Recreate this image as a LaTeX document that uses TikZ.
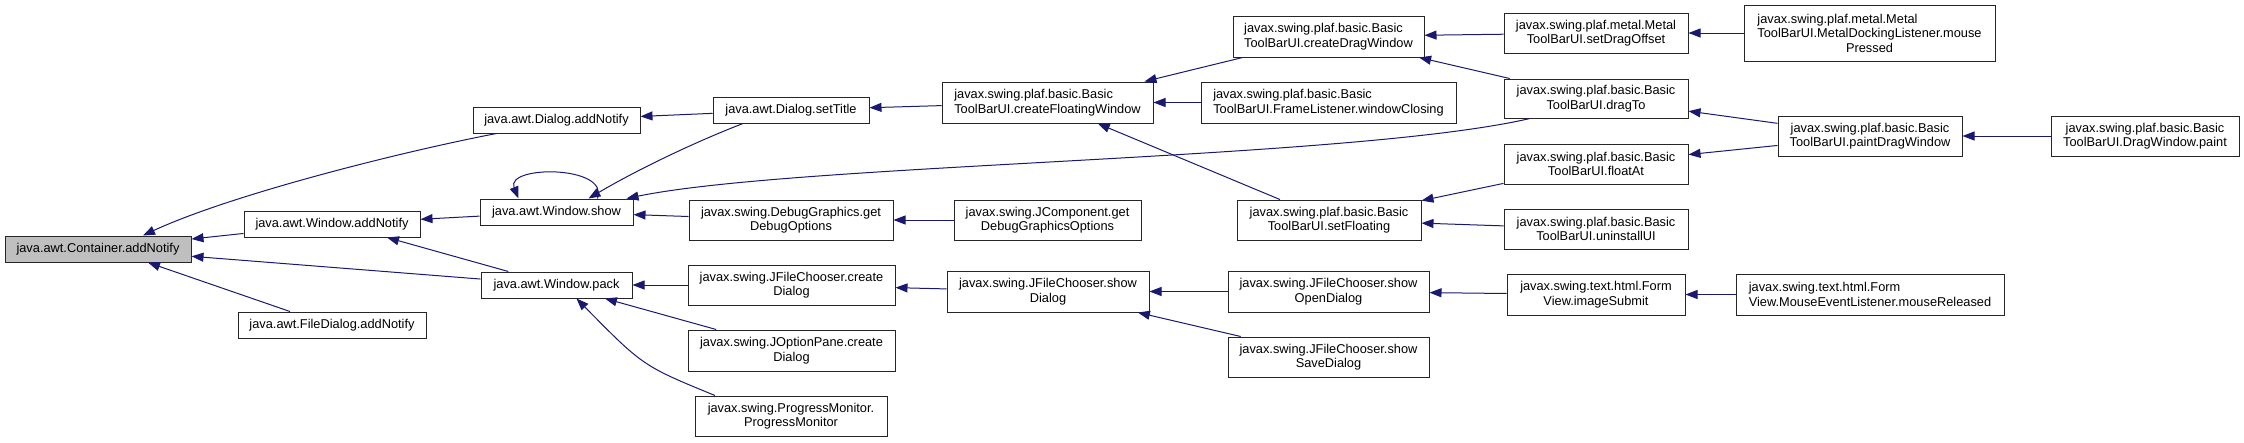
\documentclass[tikz,border=0pt]{standalone}
\usepackage{fontspec}
\setmainfont{Liberation Sans}
\usetikzlibrary{arrows.meta}
\definecolor{edgecol}{HTML}{191970}
\definecolor{rootfill}{HTML}{BFBFBF}
\begin{document}
\begin{tikzpicture}[x=1pt,y=-1pt,
  fn/.style={draw=black!85, line width=1pt, fill=white, inner sep=0pt,
    font=\fontsize{12.8}{14.5}\selectfont, align=center},
  lft/.style={align=left},
  sz/.style 2 args={minimum width=#1pt, minimum height=#2pt},
  edge/.style={draw=edgecol, line width=1pt, -{Triangle[length=12pt,width=9pt]}}]
\useasboundingbox (0,0) rectangle (2244,442);
% column 0
\node[fn, sz={186}{26}, fill=rootfill] (c0) at (98,249) {java.awt.Container.addNotify};
% column 1
\node[fn, sz={176}{26}] (wAdd) at (332,224) {java.awt.Window.addNotify};
\node[fn, sz={188}{26}] (fdAdd) at (332,325) {java.awt.FileDialog.addNotify};
% column 2
\node[fn, sz={167}{26}] (dAdd) at (556.5,120) {java.awt.Dialog.addNotify};
\node[fn, sz={153}{26}] (wShow) at (556.5,212) {java.awt.Window.show};
\node[fn, sz={151}{26}] (wPack) at (556.5,285) {java.awt.Window.pack};
% column 3
\node[fn, sz={156}{26}] (setTitle) at (791,110) {java.awt.Dialog.setTitle};
\node[fn, sz={204}{40}] (dbgOpt) at (791,220) {javax.swing.DebugGraphics.get\\DebugOptions};
\node[fn, sz={207}{40}] (jfcCreate) at (791.5,285) {javax.swing.JFileChooser.create\\Dialog};
\node[fn, sz={207}{41}] (jopCreate) at (791.5,350.5) {javax.swing.JOptionPane.create\\Dialog};
\node[fn, sz={192}{40}] (progMon) at (791,416) {javax.swing.ProgressMonitor.\\ProgressMonitor};
% column 4
\node[fn, lft, sz={211}{41}] (floatWin) at (1047.5,102.5) {javax.swing.plaf.basic.Basic\\ToolBarUI.createFloatingWindow};
\node[fn, sz={187}{40}] (jcDbg) at (1047.5,220) {javax.swing.JComponent.get\\DebugGraphicsOptions};
\node[fn, sz={202}{41}] (showDlg) at (1048,291.5) {javax.swing.JFileChooser.show\\Dialog};
% column 5
\node[fn, lft, sz={191}{41}] (dragWin) at (1328.5,36.5) {javax.swing.plaf.basic.Basic\\ToolBarUI.createDragWindow};
\node[fn, lft, sz={255}{41}] (winClosing) at (1328.5,102.5) {javax.swing.plaf.basic.Basic\\ToolBarUI.FrameListener.windowClosing};
\node[fn, sz={184}{40}] (setFloat) at (1329,220) {javax.swing.plaf.basic.Basic\\ToolBarUI.setFloating};
\node[fn, sz={201}{41}] (openDlg) at (1328.5,291.5) {javax.swing.JFileChooser.show\\OpenDialog};
\node[fn, sz={201}{40}] (saveDlg) at (1328.5,357) {javax.swing.JFileChooser.show\\SaveDialog};
% column 6
\node[fn, sz={184}{40}] (setDragOff) at (1596,33) {javax.swing.plaf.metal.Metal\\ToolBarUI.setDragOffset};
\node[fn, sz={184}{39}] (dragTo) at (1596,98.5) {javax.swing.plaf.basic.Basic\\ToolBarUI.dragTo};
\node[fn, sz={184}{40}] (floatAt) at (1596,164) {javax.swing.plaf.basic.Basic\\ToolBarUI.floatAt};
\node[fn, sz={184}{40}] (uninst) at (1596,229) {javax.swing.plaf.basic.Basic\\ToolBarUI.uninstallUI};
\node[fn, sz={178}{41}] (imgSub) at (1596,294.5) {javax.swing.text.html.Form\\View.imageSubmit};
% column 7
\node[fn, sz={251}{56}] (mousePressed) at (1869.5,33) {\rlap{javax.swing.plaf.metal.Metal}\phantom{ToolBarUI.MetalDockingListener.mouse}\\ToolBarUI.MetalDockingListener.mouse\\Pressed};
\node[fn, sz={184}{40}] (paintDrag) at (1870,136) {javax.swing.plaf.basic.Basic\\ToolBarUI.paintDragWindow};
\node[fn, lft, sz={268}{41}] (mouseRel) at (1870,294.5) {javax.swing.text.html.Form\\View.MouseEventListener.mouseReleased};
% column 8
\node[fn, sz={188}{40}] (dwPaint) at (2145,136) {javax.swing.plaf.basic.Basic\\ToolBarUI.DragWindow.paint};

% edges
\draw[edge] ([xshift=-60pt]dAdd.south) .. controls (400,152) and (230,195) .. ([xshift=45pt]c0.north);
\draw[edge] (wAdd) -- (c0);
\draw[edge] (wPack) -- (c0);
\draw[edge] ([xshift=-42pt]fdAdd.north) -- ([xshift=50pt]c0.south);
\draw[edge] (setTitle) -- (dAdd);
\draw[edge] (wShow) -- (wAdd);
\draw[edge] (wPack) -- ([xshift=55pt]wAdd.south);
\draw[edge] ([xshift=41pt]wShow.north) .. controls (610,165) and (505,165) .. ([xshift=-38pt]wShow.north);
\draw[edge] ([xshift=-48pt]setTitle.south) .. controls (700,140) and (640,168) .. ([xshift=32pt]wShow.north);
\draw[edge] ([xshift=-66pt]dragTo.south) .. controls (1350,160) and (800,163) .. ([xshift=70pt]wShow.north);
\draw[edge] (dbgOpt) -- (wShow);
\draw[edge] (floatWin) -- (setTitle);
\draw[edge] (jcDbg) -- (dbgOpt);
\draw[edge] (jfcCreate) -- (wPack);
\draw[edge] (jopCreate) -- (wPack);
\draw[edge] ([xshift=-76pt]progMon.north) .. controls (643,366) .. ([xshift=20pt]wPack.south);
\draw[edge] (dragWin) -- ([xshift=97pt]floatWin.north);
\draw[edge] (winClosing) -- (floatWin);
\draw[edge] (setFloat) -- (floatWin);
\draw[edge] (showDlg) -- (jfcCreate);
\draw[edge] (openDlg) -- (showDlg);
\draw[edge] (saveDlg) -- (showDlg);
\draw[edge] (setDragOff) -- (dragWin);
\draw[edge] (dragTo) -- (dragWin);
\draw[edge] (floatAt) -- (setFloat);
\draw[edge] (uninst) -- (setFloat);
\draw[edge] (imgSub) -- (openDlg);
\draw[edge] (mousePressed) -- (setDragOff);
\draw[edge] (paintDrag) -- (dragTo);
\draw[edge] (paintDrag) -- (floatAt);
\draw[edge] (mouseRel) -- (imgSub);
\draw[edge] (dwPaint) -- (paintDrag);
\end{tikzpicture}
\end{document}
